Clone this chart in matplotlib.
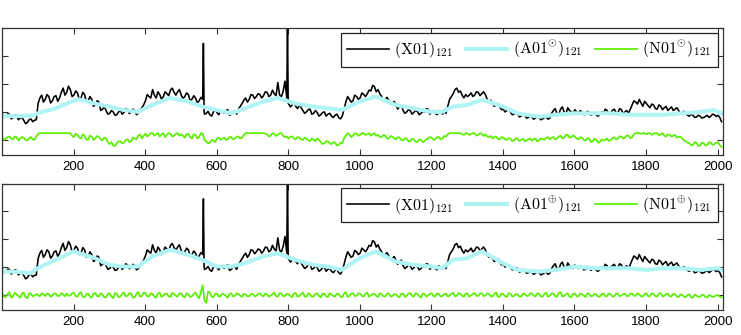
import numpy as np
import matplotlib
matplotlib.use('Agg')
import matplotlib.pyplot as plt

# ──────────────────────────────────────────────────────────────
# data (arbitrary vertical units)
# samples at x = 1, 11, 21, ... and in-between samples at x = 6, 16, 26, ...
# ──────────────────────────────────────────────────────────────
step_x = np.arange(1, 2012, 10)
mid_x = np.arange(6, 2007, 10)

x01_vals = [
    0.95, 0.85, 0.92, 0.80, 0.88, 0.78, 0.70, 0.62, 0.75, 0.70,
    1.30, 1.60, 1.45, 1.55, 1.40, 1.58, 1.50, 1.85, 1.70, 1.80,
    1.60, 1.68, 1.50, 1.62, 1.40, 1.45, 1.25, 1.35, 1.10, 1.05,
    0.95, 1.00, 0.90, 1.05, 0.98, 1.08, 1.00, 1.05, 0.95, 1.15,
    1.40, 1.55, 1.80, 1.50, 1.62, 1.55, 1.65, 1.78, 1.70, 1.72,
    1.60, 1.55, 1.62, 1.45, 1.50, 1.40, 1.45, 0.95, 0.90, 1.00,
    0.98, 1.05, 0.95, 1.08, 0.92, 1.00, 1.10, 1.30, 1.50, 1.45,
    1.60, 1.55, 1.62, 1.58, 1.70, 1.60, 1.65, 2.05, 1.55, 2.10,
    1.30, 1.25, 1.20, 1.25, 1.05, 1.00, 1.10, 0.95, 0.98, 0.90,
    1.00, 0.92, 0.85, 0.88, 0.80, 0.85, 1.35, 1.45, 1.40, 1.55,
    1.50, 1.62, 1.65, 1.75, 1.90, 1.80, 1.55, 1.45, 1.40, 1.30,
    1.25, 1.20, 1.05, 1.00, 1.05, 0.98, 1.02, 0.95, 1.00, 1.10,
    1.00, 0.95, 1.05, 0.92, 0.95, 1.45, 1.65, 1.85, 1.75, 1.50,
    1.55, 1.68, 1.60, 1.70, 1.65, 1.62, 1.35, 1.30, 1.25, 1.18,
    1.10, 1.05, 1.00, 0.92, 0.95, 0.85, 0.88, 0.80, 0.82, 0.78,
    0.80, 0.75, 0.82, 0.78, 1.05, 0.95, 1.10, 1.00, 1.15, 1.00,
    1.08, 0.95, 1.00, 0.92, 0.98, 0.95, 0.88, 0.92, 0.95, 1.05,
    0.98, 1.10, 0.95, 1.08, 1.00, 0.95, 1.25, 1.35, 1.45, 1.20,
    1.30, 1.15, 1.25, 1.10, 1.20, 1.15, 1.05, 1.18, 1.10, 1.05,
    0.98, 0.95, 0.85, 0.88, 0.82, 0.85, 0.80, 0.88, 0.85, 0.90,
    0.88, 0.65,
]
x01_mid = [
    0.80, 0.93, 0.75, 0.90, 0.72, 0.80, 0.58, 0.72, 0.65, 0.72,
    1.50, 1.35, 1.62, 1.32, 1.55, 1.38, 1.70, 1.60, 1.92, 1.55,
    1.75, 1.45, 1.70, 1.35, 1.55, 1.20, 1.40, 1.05, 1.18, 0.92,
    1.05, 0.88, 1.00, 0.92, 1.12, 0.94, 1.10, 0.90, 1.05, 1.25,
    1.62, 1.50, 1.60, 1.72, 1.45, 1.72, 1.58, 1.85, 1.60, 1.80,
    1.48, 1.68, 1.40, 1.58, 1.32, 1.52, 0.92, 1.02, 0.85, 1.08,
    0.90, 1.00, 1.05, 0.88, 1.02, 0.92, 1.20, 1.42, 1.35, 1.62,
    1.48, 1.65, 1.50, 1.72, 1.55, 1.78, 1.58, 1.60, 1.75, 1.50,
    1.18, 1.32, 1.12, 1.15, 0.95, 1.08, 0.92, 1.05, 0.85, 0.98,
    0.85, 0.95, 0.80, 0.92, 0.75, 1.10, 1.55, 1.35, 1.60, 1.45,
    1.68, 1.55, 1.78, 1.95, 1.72, 1.65, 1.40, 1.52, 1.28, 1.38,
    1.10, 1.25, 0.95, 1.08, 0.92, 1.05, 0.90, 1.02, 1.12, 0.92,
    1.05, 0.90, 0.98, 1.00, 1.20, 1.55, 1.80, 1.70, 1.60, 1.62,
    1.60, 1.55, 1.72, 1.58, 1.72, 1.45, 1.42, 1.20, 1.30, 1.08,
    1.00, 1.08, 0.90, 0.98, 0.82, 0.92, 0.78, 0.86, 0.74, 0.84,
    0.72, 0.80, 0.74, 0.95, 1.12, 0.90, 1.18, 0.92, 1.05, 0.95,
    1.00, 1.05, 0.90, 1.02, 0.88, 0.98, 0.85, 1.00, 1.10, 0.92,
    1.05, 0.98, 1.12, 0.94, 1.05, 1.10, 1.40, 1.28, 1.32, 1.38,
    1.22, 1.28, 1.12, 1.25, 1.08, 1.20, 1.12, 1.05, 1.15, 0.92,
    1.02, 0.88, 0.92, 0.80, 0.88, 0.78, 0.84, 0.80, 0.92, 0.84,
    0.80,
]
# narrow spikes of X01
spike_x = [563, 565, 798, 800]
spike_y = [3.45, 1.00, 4.05, 1.30]

n01_dot = [
    0.10, 0.05, 0.12, 0.02, 0.10, 0.05, 0.08, -0.02, 0.10, 0.00,
    0.22, 0.24, 0.24, 0.24, 0.24, 0.24, 0.24, 0.24, 0.24, 0.24,
    0.10, 0.18, 0.05, 0.15, 0.02, 0.12, 0.05, 0.10, -0.02, 0.05,
    -0.15, -0.20, -0.12, -0.05, -0.10, 0.02, -0.05, 0.05, 0.15, 0.05,
    0.22, 0.18, 0.24, 0.20, 0.12, 0.24, 0.18, 0.22, 0.15, 0.24,
    0.20, 0.08, 0.22, 0.05, 0.18, 0.10, 0.22, -0.05, -0.10, -0.02,
    0.05, 0.00, 0.08, 0.02, 0.10, 0.05, 0.12, 0.08, 0.24, 0.24,
    0.24, 0.24, 0.24, 0.24, 0.20, 0.15, 0.22, 0.18, 0.24, 0.10,
    0.05, 0.12, 0.02, 0.08, 0.00, 0.05, -0.05, 0.02, 0.05, -0.08,
    -0.12, -0.05, -0.15, -0.10, -0.18, -0.12, 0.15, 0.20, 0.15, 0.22,
    0.18, 0.24, 0.20, 0.15, 0.24, 0.18, 0.10, 0.15, 0.05, 0.12,
    0.02, 0.08, -0.02, 0.05, -0.05, 0.02, -0.08, 0.00, -0.05, 0.05,
    0.08, 0.02, 0.10, 0.05, 0.12, 0.24, 0.24, 0.24, 0.24, 0.18,
    0.24, 0.20, 0.24, 0.18, 0.22, 0.20, 0.10, 0.05, 0.12, 0.02,
    0.08, 0.00, 0.05, -0.02, 0.05, 0.00, -0.05, 0.02, -0.03, 0.05,
    -0.02, 0.03, 0.08, 0.02, 0.10, 0.05, 0.15, 0.08, 0.18, 0.10,
    0.12, 0.02, 0.08, -0.02, 0.05, -0.05, 0.00, -0.08, -0.02, 0.05,
    0.00, 0.10, 0.05, 0.12, 0.08, 0.15, 0.10, 0.24, 0.24, 0.24,
    0.20, 0.24, 0.22, 0.24, 0.20, 0.15, 0.20, 0.12, 0.18, 0.10,
    0.05, -0.05, -0.12, -0.18, -0.10, -0.20, -0.12, -0.18, -0.10, -0.15,
    -0.08, -0.25,
]
n01_dot_mid = [
    0.00, 0.10, 0.05, 0.12, -0.02, 0.10, 0.00, 0.06, 0.02, 0.12,
    0.24, 0.24, 0.24, 0.24, 0.24, 0.24, 0.24, 0.24, 0.24, 0.15,
    0.22, 0.08, 0.20, 0.00, 0.15, 0.00, 0.14, 0.02, 0.08, -0.08,
    -0.08, -0.22, -0.05, -0.12, 0.00, -0.08, 0.08, 0.02, 0.20, 0.15,
    0.12, 0.24, 0.15, 0.24, 0.20, 0.10, 0.24, 0.12, 0.22, 0.15,
    0.15, 0.20, 0.10, 0.20, 0.05, 0.24, 0.00, -0.12, 0.00, -0.08,
    0.08, 0.05, 0.00, 0.10, 0.02, 0.12, 0.05, 0.18, 0.24, 0.24,
    0.24, 0.24, 0.24, 0.22, 0.12, 0.24, 0.14, 0.24, 0.15, 0.12,
    0.12, 0.05, 0.10, 0.02, 0.08, -0.02, 0.05, -0.05, 0.00, -0.15,
    -0.05, -0.12, -0.08, -0.20, -0.10, 0.05, 0.24, 0.10, 0.24, 0.15,
    0.24, 0.18, 0.24, 0.20, 0.15, 0.10, 0.18, 0.05, 0.14, 0.05,
    0.10, 0.00, 0.06, -0.05, 0.04, -0.06, 0.02, -0.08, 0.02, 0.10,
    0.00, 0.10, 0.02, 0.14, 0.20, 0.24, 0.24, 0.24, 0.20, 0.24,
    0.18, 0.24, 0.15, 0.24, 0.14, 0.12, 0.14, 0.10, 0.04, 0.10,
    0.02, 0.06, -0.04, 0.06, -0.04, 0.04, -0.02, 0.05, 0.03, -0.05,
    0.05, 0.00, 0.10, 0.08, 0.02, 0.12, 0.05, 0.18, 0.08, 0.16,
    0.05, 0.10, 0.00, 0.06, -0.08, 0.04, -0.10, 0.02, 0.00, -0.04,
    0.06, 0.02, 0.12, 0.05, 0.16, 0.06, 0.20, 0.24, 0.22, 0.24,
    0.24, 0.18, 0.24, 0.16, 0.24, 0.12, 0.18, 0.15, 0.08, 0.12,
    -0.02, -0.10, -0.20, -0.08, -0.22, -0.10, -0.20, -0.08, -0.18, -0.10,
    -0.18,
]

n01_plus = [
    0.05, -0.08, 0.10, -0.05, 0.02, -0.10, 0.08, -0.12, 0.05, -0.02,
    0.00, 0.06, -0.04, 0.03, -0.02, 0.04, -0.03, 0.02, 0.05, -0.02,
    0.08, -0.06, 0.10, -0.08, 0.04, -0.10, 0.07, -0.05, 0.02, -0.09,
    0.06, -0.12, 0.03, -0.06, 0.09, -0.03, 0.05, -0.08, 0.10, -0.04,
    0.07, -0.05, 0.03, -0.10, 0.08, -0.02, 0.05, -0.07, 0.04, -0.06,
    0.06, -0.09, 0.02, -0.05, 0.08, -0.12, 0.35, -0.28, 0.10, -0.08,
    0.05, -0.04, 0.02, -0.10, 0.06, -0.03, 0.03, -0.06, 0.02, -0.04,
    0.04, -0.03, 0.06, -0.05, 0.02, -0.02, 0.08, -0.06, 0.05, -0.03,
    0.03, -0.08, 0.07, -0.04, 0.09, -0.06, 0.02, -0.05, 0.06, -0.09,
    0.04, -0.07, 0.02, -0.05, 0.03, -0.08, 0.10, -0.04, 0.06, -0.03,
    0.05, -0.06, 0.08, -0.02, 0.04, -0.07, 0.03, -0.05, 0.06, -0.04,
    0.02, -0.08, 0.05, -0.03, 0.07, -0.06, 0.03, -0.10, 0.04, -0.02,
    0.06, -0.05, 0.03, -0.04, 0.05, -0.02, 0.08, -0.03, 0.04, -0.06,
    0.05, -0.02, 0.07, -0.04, 0.06, -0.03, 0.04, -0.05, 0.09, -0.06,
    0.03, -0.07, 0.05, -0.04, 0.02, -0.06, 0.04, -0.03, 0.06, -0.05,
    0.04, -0.06, 0.08, -0.03, 0.05, -0.07, 0.10, -0.04, 0.06, -0.08,
    0.05, -0.05, 0.03, -0.07, 0.04, -0.03, 0.02, -0.06, 0.05, -0.04,
    0.03, -0.05, 0.06, -0.02, 0.04, -0.04, 0.05, -0.03, 0.02, -0.05,
    0.06, -0.04, 0.03, -0.06, 0.07, -0.03, 0.04, -0.05, 0.02, -0.07,
    0.00, -0.08, 0.02, -0.10, -0.02, -0.06, 0.01, -0.09, -0.03, -0.05,
    0.00, -0.08,
]
n01_plus_mid = [
    -0.06, 0.04, -0.10, 0.08, -0.04, 0.05, -0.08, 0.06, -0.05, 0.03,
    -0.05, 0.02, 0.05, -0.06, 0.06, -0.04, 0.07, -0.05, -0.03, 0.06,
    -0.04, 0.06, -0.07, 0.03, -0.06, 0.05, -0.04, 0.06, -0.08, 0.04,
    -0.05, 0.07, -0.08, 0.04, -0.05, 0.06, -0.10, 0.05, -0.06, 0.08,
    -0.04, 0.06, -0.06, 0.05, -0.07, 0.04, -0.05, 0.07, -0.03, 0.05,
    -0.05, 0.06, -0.07, 0.04, -0.04, 0.10, -0.20, 0.12, -0.06, 0.04,
    -0.06, 0.05, -0.04, 0.04, -0.05, 0.06, -0.03, 0.04, -0.05, 0.03,
    -0.05, 0.04, -0.02, 0.05, -0.06, 0.03, -0.04, 0.06, -0.05, 0.04,
    -0.04, 0.05, -0.06, 0.03, -0.05, 0.06, -0.07, 0.04, -0.03, 0.05,
    -0.05, 0.06, -0.04, 0.05, -0.06, 0.04, -0.07, 0.05, -0.04, 0.06,
    -0.03, 0.05, -0.06, 0.04, -0.03, 0.06, -0.05, 0.04, -0.06, 0.03,
    -0.05, 0.04, -0.07, 0.05, -0.03, 0.06, -0.04, 0.05, -0.06, 0.04,
    -0.04, 0.06, -0.05, 0.03, -0.06, 0.04, -0.05, 0.06, -0.03, 0.05,
    -0.06, 0.04, -0.03, 0.05, -0.04, 0.06, -0.05, 0.04, -0.07, 0.05,
    -0.04, 0.06, -0.05, 0.03, -0.06, 0.05, -0.04, 0.05, -0.03, 0.06,
    -0.05, 0.04, -0.06, 0.05, -0.04, 0.07, -0.05, 0.03, -0.06, 0.04,
    -0.04, 0.05, -0.03, 0.06, -0.05, 0.04, -0.06, 0.03, -0.05, 0.05,
    -0.06, 0.04, -0.05, 0.03, -0.04, 0.05, -0.03, 0.06, -0.05, 0.04,
    -0.05, 0.06, -0.04, 0.05, -0.06, 0.03, -0.05, 0.04, -0.06, 0.02,
    -0.06, 0.00, -0.08, 0.01, -0.07, -0.01, -0.08, 0.00, -0.07, -0.02,
    -0.06,
]

a01_dot_x = [1, 50, 90, 100, 150, 200, 215, 230, 260, 300, 340, 380, 420,
             470, 520, 560, 600, 640, 680, 730, 770, 820, 870, 910, 950,
             1000, 1045, 1100, 1150, 1200, 1230, 1260, 1300, 1340, 1360,
             1400, 1440, 1500, 1550, 1600, 1650, 1700, 1750, 1800, 1850,
             1900, 1950, 1990, 2011]
a01_dot = [0.85, 0.85, 0.88, 0.95, 1.13, 1.40, 1.45, 1.40, 1.30, 1.19,
           1.07, 1.00, 1.25, 1.50, 1.37, 1.19, 1.07, 0.95, 1.13, 1.37,
           1.50, 1.30, 1.19, 1.13, 1.07, 1.37, 1.55, 1.25, 1.13, 1.00,
           1.00, 1.19, 1.25, 1.43, 1.37, 1.19, 0.95, 0.83, 0.90, 0.95,
           0.95, 0.95, 0.90, 0.90, 0.90, 0.95, 1.00, 1.07, 0.95]

a01_plus_x = [1, 50, 80, 100, 150, 200, 230, 260, 300, 340, 380, 420, 470,
              520, 560, 600, 640, 680, 730, 770, 820, 870, 910, 950, 1000,
              1045, 1100, 1150, 1200, 1230, 1260, 1300, 1340, 1360, 1400,
              1440, 1500, 1550, 1600, 1650, 1700, 1750, 1800, 1850, 1900,
              1950, 2000, 2011]
a01_plus = [0.85, 0.82, 0.78, 0.96, 1.26, 1.56, 1.44, 1.32, 1.08, 1.02,
            1.02, 1.38, 1.62, 1.44, 1.26, 1.02, 1.02, 1.14, 1.38, 1.50,
            1.26, 1.08, 1.02, 0.90, 1.32, 1.56, 1.20, 1.08, 1.02, 0.96,
            1.26, 1.32, 1.56, 1.44, 1.14, 0.90, 0.84, 0.90, 1.02, 0.96,
            0.96, 0.96, 0.90, 0.96, 0.96, 0.90, 0.96, 0.90]

# ──────────────────────────────────────────────────────────────
# style
# ──────────────────────────────────────────────────────────────
plt.rcParams['mathtext.fontset'] = 'cm'
plt.rcParams['font.family'] = ['Liberation Sans', 'DejaVu Sans']

C_X = '#000000'
C_A = '#b0f4f4'
C_N = '#5aee00'


def _merge(*pairs):
    """join several (x, y) sample lists into one trace sorted by x"""
    xs = np.concatenate([np.asarray(p[0], float) for p in pairs])
    ys = np.concatenate([np.asarray(p[1], float) for p in pairs])
    order = np.argsort(xs, kind='stable')
    return xs[order], ys[order]


x01_x, x01_y = _merge((step_x, x01_vals), (mid_x, x01_mid), (spike_x, spike_y))
ndot_x, ndot_y = _merge((step_x, n01_dot), (mid_x, n01_dot_mid))
nplus_x, nplus_y = _merge((step_x, n01_plus), (mid_x, n01_plus_mid))


def _panel(ax, a_x, a_y, n_x, n_y, sym):
    ax.plot(x01_x, x01_y, color=C_X, lw=1.15, label=r'$(\mathrm{X01})_{121}$')
    ax.plot(a_x, a_y, color=C_A, lw=2.9, label=r'$(\mathrm{A01}^{%s})_{121}$' % sym)
    ax.plot(n_x, n_y, color=C_N, lw=1.25, label=r'$(\mathrm{N01}^{%s})_{121}$' % sym)
    ax.set_xlim(1, 2015)
    ax.set_ylim(-0.54, 4.0)
    ax.set_xticks(np.arange(200, 2001, 200))
    ax.set_yticks([0, 1, 2, 3, 4])
    ax.set_yticklabels([])
    ax.tick_params(direction='in', top=True, right=True, length=4,
                   width=0.8, labelsize=9.5, pad=4.5, color='#333333')
    for sp in ax.spines.values():
        sp.set_edgecolor('#333333')
        sp.set_linewidth(0.9)
    leg = ax.legend(loc='upper right', bbox_to_anchor=(0.993, 0.962),
                    borderaxespad=0, ncol=3, fontsize=11.5, fancybox=False,
                    framealpha=1, edgecolor='#222222', handlelength=2.6,
                    handletextpad=0.35, columnspacing=0.8,
                    borderpad=0.4)
    leg.get_frame().set_linewidth(0.9)


fig = plt.figure(figsize=(7.41, 3.35), dpi=100)
ax1 = fig.add_axes([0.0031, 0.5373, 0.9726, 0.3791])
ax2 = fig.add_axes([0.0031, 0.0746, 0.9726, 0.3776])

_panel(ax1, a01_dot_x, a01_dot, ndot_x, ndot_y, r'\odot')
_panel(ax2, a01_plus_x, a01_plus, nplus_x, nplus_y, r'\oplus')

fig.savefig('out.png', dpi=100)
plt.close()
